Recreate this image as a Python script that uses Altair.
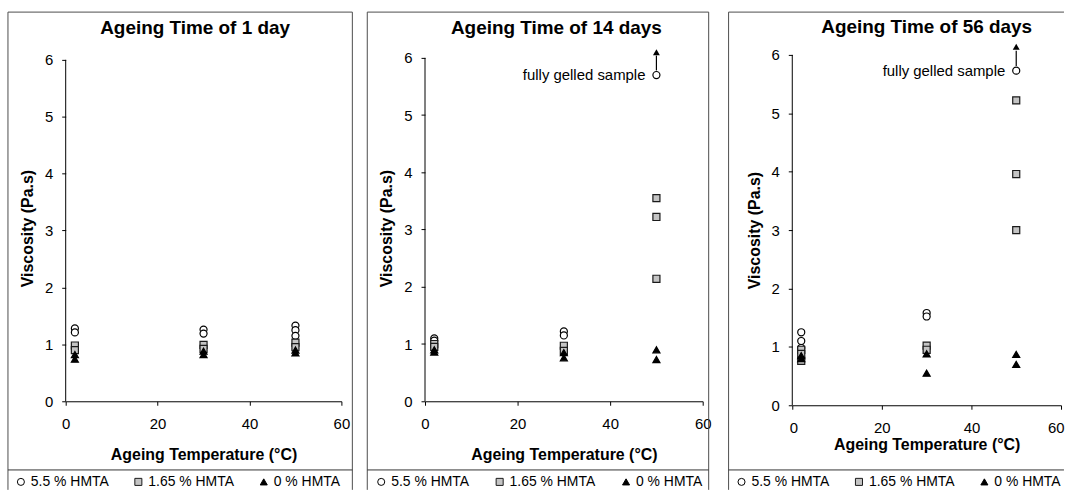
import altair as alt
import pandas as pd

# ---- shared styling -------------------------------------------------------
FONT = "Liberation Sans"
SERIES = ["5.5 % HMTA", "1.65 % HMTA", "0 % HMTA"]
SHAPES = ["circle", "square", "triangle-up"]
FILLS = ["white", "#c4c4c4", "black"]
STROKES = ["black", "#1a1a1a", "black"]
SIZES = [50, 50, 66]

X_TICKS = [0, 20, 40, 60]
Y_TICKS = [0, 1, 2, 3, 4, 5, 6]

# ---- ageing time 1 day ------------------------------------------------------
day1_temp_55 = [2, 2, 30, 30, 50, 50, 50]
day1_visc_55 = [1.28, 1.21, 1.26, 1.19, 1.33, 1.25, 1.15]
day1_temp_165 = [2, 2, 30, 30, 50, 50]
day1_visc_165 = [0.98, 0.90, 0.99, 0.92, 1.03, 0.95]
day1_temp_0 = [2, 2, 30, 30, 50, 50]
day1_visc_0 = [0.82, 0.74, 0.88, 0.82, 0.90, 0.85]

# ---- ageing time 14 days ----------------------------------------------------
day14_temp_55 = [2, 2, 30, 30, 50]
day14_visc_55 = [1.10, 1.06, 1.22, 1.15, 5.70]
day14_temp_165 = [2, 2, 30, 30, 50, 50, 50]
day14_visc_165 = [1.00, 0.95, 0.97, 0.88, 3.55, 3.22, 2.14]
day14_temp_0 = [2, 2, 30, 30, 50, 50]
day14_visc_0 = [0.90, 0.86, 0.85, 0.76, 0.90, 0.73]

# ---- ageing time 56 days ----------------------------------------------------
day56_temp_55 = [2, 2, 2, 30, 30, 50]
day56_visc_55 = [1.25, 1.10, 0.98, 1.58, 1.52, 5.73]
day56_temp_165 = [2, 2, 2, 30, 30, 50, 50, 50]
day56_visc_165 = [0.95, 0.88, 0.76, 1.02, 0.95, 5.22, 3.96, 3.00]
day56_temp_0 = [2, 2, 30, 30, 50, 50]
day56_visc_0 = [0.85, 0.80, 0.88, 0.55, 0.87, 0.70]

# gelled sample: label and upward arrow (shaft start, shaft end, head)
GEL_LABEL = "fully gelled sample"
gel14 = {"temp": 50, "visc": 5.70, "shaft": [5.78, 6.04], "head": 6.10}
gel56 = {"temp": 50, "visc": 5.73, "shaft": [5.81, 6.07], "head": 6.14}

ONE = pd.DataFrame({"k": [0]})
AXIS_LINE = pd.DataFrame({"temp": [0], "visc": [0], "visc2": [6]})


def series_table(temps, viscs):
    rows = []
    for name, ts, vs in zip(SERIES, temps, viscs):
        rows += [{"temp": t, "visc": v, "series": name} for t, v in zip(ts, vs)]
    return pd.DataFrame(rows)


def rule(x1, x2, y1, y2, color="#4d4d4d", width=1.0):
    return alt.Chart(ONE).mark_rule(color=color, strokeWidth=width).encode(
        x=alt.value(x1), x2=alt.value(x2), y=alt.value(y1), y2=alt.value(y2)
    )


def panel(title, table, g, gel=None):
    x_enc = alt.X(
        "temp:Q",
        scale=alt.Scale(domain=[0, 60], nice=False, zero=False),
        axis=alt.Axis(values=X_TICKS, title="Ageing Temperature (°C)",
                      labelPadding=11, titlePadding=g["xpad"],
                      labelFlush=g["flush"], labelFlushOffset=3),
    )
    y_enc = alt.Y(
        "visc:Q",
        scale=alt.Scale(domain=[0, g["ymax"]], nice=False),
        axis=alt.Axis(values=Y_TICKS, title="Viscosity (Pa.s)", domain=False,
                      labelPadding=9, titlePadding=9),
    )
    legend = alt.Legend(
        title=None, orient="none", legendX=g["lx"], legendY=g["ly"],
        direction="horizontal", labelFont=FONT, labelFontSize=14,
        labelColor="black", symbolSize=55, symbolStrokeWidth=1,
        columnPadding=g["lcol"], labelOffset=3, padding=0,
    )

    layers = []
    # outer frame, legend separator and invisible cell edges
    layers.append(rule(g["fl"], g["fl"], g["ft"], g["fb"]))
    if g["fr"] is not None:
        layers.append(rule(g["fr"], g["fr"], g["ft"], g["fb"]))
        right = g["fr"]
    else:
        right = g["cr"]
    layers.append(rule(g["fl"], right, g["ft"], g["ft"]))
    layers.append(rule(g["fl"], right, g["sep"], g["sep"], color="#333333"))
    layers.append(rule(g["cl"], g["cl"], g["ft"], g["fb"], color="white", width=0.1))
    layers.append(rule(g["cr"], g["cr"], g["ft"], g["fb"], color="white", width=0.1))

    # vertical axis line from 0 to 6
    layers.append(
        alt.Chart(AXIS_LINE).mark_rule(color="black", strokeWidth=1).encode(
            x=x_enc, y=y_enc, y2="visc2:Q"
        )
    )

    points = alt.Chart(table).mark_point(
        filled=True, strokeWidth=1.2, opacity=1
    ).encode(
        x=x_enc,
        y=y_enc,
        shape=alt.Shape("series:N", scale=alt.Scale(domain=SERIES, range=SHAPES), legend=legend),
        fill=alt.Fill("series:N", scale=alt.Scale(domain=SERIES, range=FILLS), legend=legend),
        stroke=alt.Stroke("series:N", scale=alt.Scale(domain=SERIES, range=STROKES), legend=legend),
        size=alt.Size("series:N", scale=alt.Scale(domain=SERIES, range=SIZES), legend=legend),
    )
    layers.append(points)

    if gel is not None:
        lab = pd.DataFrame({"temp": [gel["temp"]], "visc": [gel["visc"]], "label": [GEL_LABEL]})
        layers.append(
            alt.Chart(lab).mark_text(
                align="right", baseline="middle", dx=-11, font=FONT, fontSize=15, color="black"
            ).encode(x=x_enc, y=y_enc, text="label:N")
        )
        shaft = pd.DataFrame({"temp": [gel["temp"]], "visc": [gel["shaft"][0]], "visc2": [gel["shaft"][1]]})
        layers.append(
            alt.Chart(shaft).mark_rule(color="black", strokeWidth=1.2).encode(
                x=x_enc, y=y_enc, y2="visc2:Q"
            )
        )
        head = pd.DataFrame({"temp": [gel["temp"]], "visc": [gel["head"]]})
        layers.append(
            alt.Chart(head).mark_point(
                shape="triangle-up", filled=True, size=48, color="black", opacity=1
            ).encode(x=x_enc, y=y_enc)
        )

    heading = pd.DataFrame({"t": [title]})
    layers.append(
        alt.Chart(heading).mark_text(
            font=FONT, fontSize=19, fontWeight="bold", color="black",
            align="center", baseline="middle",
        ).encode(text="t:N", x=alt.value(g["tx"]), y=alt.value(g["ty"]))
    )

    return alt.layer(*layers).properties(width=g["w"], height=g["h"])


geo1 = dict(w=277, h=348, ymax=6.087, fl=-58, fr=288, ft=-43, fb=437, sep=417,
            cl=-65, cr=295, tx=130, ty=-27, lx=-52, ly=422, lcol=22, xpad=16, flush=False)
geo2 = dict(w=279, h=348, ymax=6.052, fl=-58, fr=285, ft=-43, fb=437, sep=417,
            cl=-64, cr=294, tx=132, ty=-27, lx=-51, ly=422, lcol=23, xpad=16, flush=False)
geo3 = dict(w=270, h=352, ymax=6.0, fl=-64, fr=None, ft=-43, fb=437, sep=417,
            cl=-73, cr=273, tx=135, ty=-28, lx=-58, ly=422, lcol=22, xpad=1, flush=True)

p1 = panel("Ageing Time of 1 day",
           series_table([day1_temp_55, day1_temp_165, day1_temp_0],
                        [day1_visc_55, day1_visc_165, day1_visc_0]), geo1)
p2 = panel("Ageing Time of 14 days",
           series_table([day14_temp_55, day14_temp_165, day14_temp_0],
                        [day14_visc_55, day14_visc_165, day14_visc_0]), geo2, gel14)
p3 = panel("Ageing Time of 56 days",
           series_table([day56_temp_55, day56_temp_165, day56_temp_0],
                        [day56_visc_55, day56_visc_165, day56_visc_0]), geo3, gel56)

chart = (
    alt.hconcat(p1, p2, p3, spacing=0)
    .resolve_scale(x="independent", y="independent", shape="independent",
                   fill="independent", stroke="independent", size="independent")
    .resolve_legend(shape="independent", fill="independent", stroke="independent",
                    size="independent")
    .properties(padding={"left": 0, "top": 10, "right": 0, "bottom": 0}, background="white")
    .configure_view(stroke="transparent")
    .configure_axis(
        grid=False, domainColor="black", tickColor="black", labelColor="black",
        titleColor="black", labelFont=FONT, titleFont=FONT, labelFontSize=15,
        titleFontSize=16, titleFontWeight="bold", tickSize=4, domainWidth=1,
        labelFontWeight="normal",
    )
)

chart.save("out.html", embed_options={"renderer": "svg", "actions": False})
